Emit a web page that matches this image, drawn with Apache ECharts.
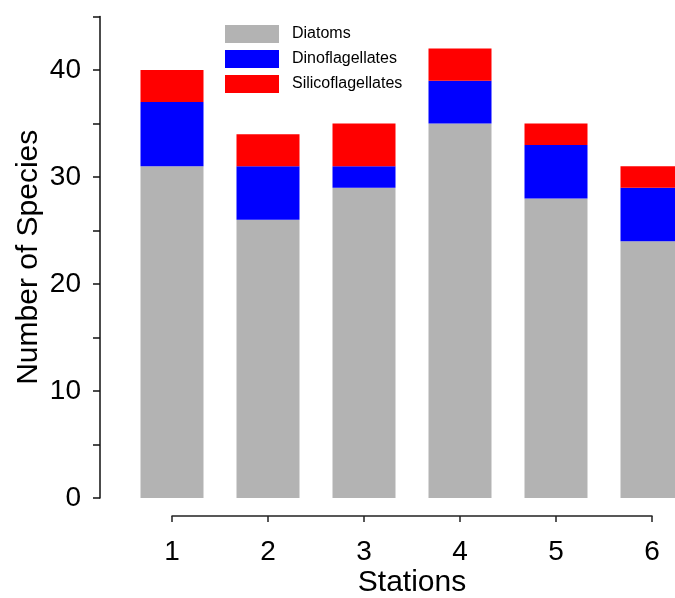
<!DOCTYPE html>
<html>
<head>
<meta charset="utf-8">
<script src="https://cdn.jsdelivr.net/npm/echarts@6/dist/echarts.min.js"></script>
<style>
html,body{margin:0;padding:0;background:#fff;}
#chart{width:675px;height:598px;}
</style>
</head>
<body>
<div id="chart"></div>
<script>
const stations = ['1', '2', '3', '4', '5', '6'];
const diatoms = [31, 26, 29, 35, 28, 24];
const dinoflagellates = [6, 5, 2, 4, 5, 5];
const silicoflagellates = [3, 3, 4, 3, 2, 2];
const seriesNames = ['Diatoms', 'Dinoflagellates', 'Silicoflagellates'];
const seriesColors = ['#b3b3b3', '#0000ff', '#ff0000'];
const seriesValues = [diatoms, dinoflagellates, silicoflagellates];
const yTicks = [0, 10, 20, 30, 40];

const FONT = 'Liberation Sans, Arial, Helvetica, sans-serif';
const chart = echarts.init(document.getElementById('chart'));

chart.setOption({
  animation: false,
  backgroundColor: '#ffffff',
  textStyle: { fontFamily: FONT },
  legend: {
    orient: 'vertical',
    left: 225,
    top: 25,
    padding: 0,
    itemWidth: 54,
    itemHeight: 18,
    itemGap: 7,
    icon: 'rect',
    data: seriesNames,
    textStyle: { fontFamily: FONT, fontSize: 16, color: '#000', padding: [0, 0, 0, 8] }
  },
  grid: [
    { left: 124, width: 576, top: 16.5, bottom: 100, containLabel: false, outerBoundsMode: 'none' },
    { left: 172, width: 480, top: 16.5, bottom: 100, containLabel: false, outerBoundsMode: 'none' }
  ],
  xAxis: [
    {
      type: 'category', gridIndex: 0, data: stations,
      axisLine: { show: false }, axisTick: { show: false }, axisLabel: { show: false },
      splitLine: { show: false }
    },
    {
      type: 'value', gridIndex: 1,
      min: 1, max: 6, interval: 1,
      offset: 18,
      name: 'Stations',
      nameLocation: 'middle',
      nameGap: 52,
      nameMoveOverlap: false,
      nameTextStyle: { fontFamily: FONT, fontSize: 30, color: '#000' },
      axisLine: { show: true, onZero: false, lineStyle: { color: '#222', width: 1.5 } },
      axisTick: { show: true, length: 6, lineStyle: { color: '#222', width: 1.5 } },
      axisLabel: { fontFamily: FONT, fontSize: 28, color: '#000', margin: 22 },
      splitLine: { show: false }
    }
  ],
  yAxis: [
    {
      type: 'value', gridIndex: 0, min: 0, max: 45, interval: 5,
      axisLine: { show: false }, axisTick: { show: false }, axisLabel: { show: false },
      splitLine: { show: false }
    },
    {
      type: 'value', gridIndex: 1,
      min: 0, max: 45, interval: 5,
      offset: 72,
      name: 'Number of Species',
      nameLocation: 'middle',
      nameGap: 56,
      nameMoveOverlap: false,
      nameRotate: 90,
      nameTextStyle: { fontFamily: FONT, fontSize: 30, color: '#000' },
      axisLine: { show: true, onZero: false, lineStyle: { color: '#111', width: 1.5 } },
      axisTick: { show: true, length: 7, lineStyle: { color: '#111', width: 1.5 } },
      axisLabel: {
        fontFamily: FONT, fontSize: 28, color: '#000', margin: 19,
        formatter: v => (yTicks.indexOf(v) >= 0 ? String(v) : '')
      },
      splitLine: { show: false }
    }
  ],
  series: seriesNames.map((name, i) => ({
    name: name,
    type: 'bar',
    stack: 'total',
    xAxisIndex: 0,
    yAxisIndex: 0,
    barWidth: 63,
    itemStyle: { color: seriesColors[i] },
    data: seriesValues[i]
  }))
});
</script>
</body>
</html>
